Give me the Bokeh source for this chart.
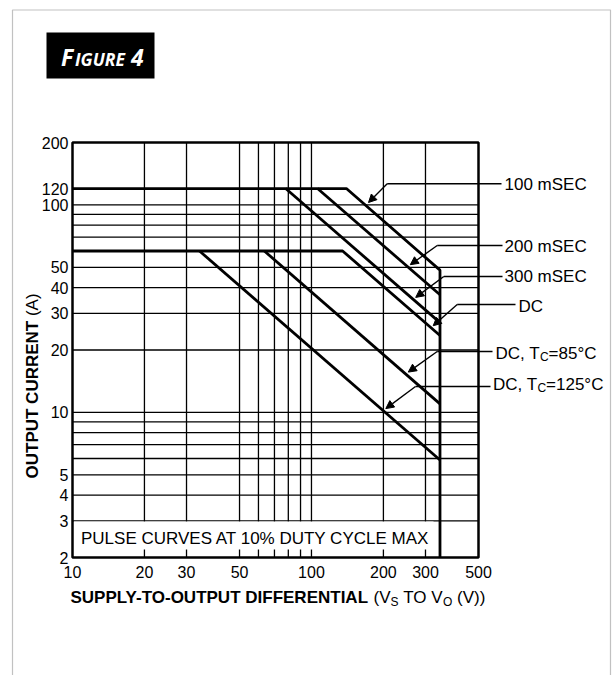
import math
from bokeh.plotting import figure
from bokeh.models import (FixedTicker, NumeralTickFormatter, Label, BoxAnnotation,
                          Arrow, NormalHead)
from bokeh.embed import file_html
from bokeh.resources import INLINE

# ---------------- data ----------------
x_ticks = [10, 20, 30, 50, 100, 200, 300, 500]
y_ticks = [2, 3, 4, 5, 10, 20, 30, 40, 50, 100, 120, 200]
x_grid = [20, 30, 50, 60, 70, 80, 90, 100, 200, 300]
y_grid = [3, 4, 5, 6, 7, 8, 9, 10, 20, 30, 40, 50, 70, 80, 90, 100]
x_lim = [10, 500]
y_lim = [2, 200]

v_100ms = [10, 140, 345, 345]
i_100ms = [120, 120, 48.5, 2]
v_200ms = [106, 345]
i_200ms = [120, 36.9]
v_300ms = [78, 345]
i_300ms = [120, 27.1]
v_dc = [10, 135, 345]
i_dc = [60, 60, 23.5]
v_dc85 = [63.5, 345]
i_dc85 = [60, 11.0]
v_dc125 = [34, 345]
i_dc125 = [60, 5.9]

# ---------------- layout (page pixels) ----------------
W, H = 612, 675
FL, FT, FW, FH = 72, 142, 406, 415   # plot box on the page
FB = FT + FH
XPD = FW / math.log10(x_lim[1] / x_lim[0])   # px per decade
YPD = FH / math.log10(y_lim[1] / y_lim[0])
FONT = "Liberation Sans"

def sx(px):
    return px

def sy(py):
    return H - py

REG = {' ': 278, '(': 333, ')': 333, 'V': 667, 'S': 667, 'T': 611, 'O': 778, 'C': 722,
       'D': 722, ',': 278, '=': 584, '°': 400, 'm': 833, 'E': 667, 'A': 667}
BOLD = {'S': 667, 'U': 722, 'P': 667, 'L': 611, 'Y': 667, '-': 333, 'T': 611, 'O': 778,
        ' ': 278, 'D': 722, 'I': 278, 'F': 611, 'E': 667, 'R': 722, 'N': 722, 'A': 722, 'C': 722}

def tw(s, size, bold=False):
    tab = BOLD if bold else REG
    return sum(tab.get(c, 556) for c in s) * size / 1000.0

x_range = (x_lim[0] * 10 ** (-FL / XPD), x_lim[0] * 10 ** ((W - FL) / XPD))
y_range = (y_lim[0] * 10 ** (-(H - FB) / YPD), y_lim[1] * 10 ** (FT / YPD))

p = figure(x_axis_type="log", y_axis_type="log", x_range=x_range, y_range=y_range,
           width=W, height=H, min_border=0, min_border_left=0, min_border_right=0,
           min_border_top=0, min_border_bottom=0,
           toolbar_location=None, output_backend="svg", title=None)

p.background_fill_color = "white"
p.border_fill_color = "white"
p.outline_line_color = None
p.grid.visible = False

for ax, ticks in ((p.xaxis, x_ticks), (p.yaxis, y_ticks)):
    ax.ticker = FixedTicker(ticks=ticks)
    ax.formatter = NumeralTickFormatter(format="0")
    ax.major_label_text_font = FONT
    ax.major_label_text_font_size = "16px"
    ax.major_label_text_color = "black"
    ax.major_tick_in = 0
    ax.major_tick_out = 0
    ax.minor_tick_in = 0
    ax.minor_tick_out = 0
    ax.axis_line_color = None
p.xaxis.fixed_location = y_lim[0]
p.yaxis.fixed_location = x_lim[0]
p.xaxis.major_label_standoff = 8
p.yaxis.major_label_standoff = 4

# grid lines, spanning the plot box only
p.segment(x0=x_grid, y0=[y_lim[0]] * len(x_grid), x1=x_grid, y1=[y_lim[1]] * len(x_grid),
          line_color="black", line_width=1.3)
p.segment(x0=[x_lim[0]] * len(y_grid), y0=y_grid, x1=[x_lim[1]] * len(y_grid), y1=y_grid,
          line_color="black", line_width=1.3)

# curves
for v, i in ((v_100ms, i_100ms), (v_200ms, i_200ms), (v_300ms, i_300ms),
             (v_dc, i_dc), (v_dc85, i_dc85), (v_dc125, i_dc125)):
    p.line(v, i, line_color="black", line_width=2.8)

# plot box border
p.quad(left=[x_lim[0]], right=[x_lim[1]], bottom=[y_lim[0]], top=[y_lim[1]],
       fill_color=None, line_color="black", line_width=2.5)

def box(l, r, t, b, **kw):
    p.add_layout(BoxAnnotation(left=sx(l), right=sx(r), top=sy(t), bottom=sy(b),
                               left_units="screen", right_units="screen",
                               top_units="screen", bottom_units="screen", **kw))

def lab(text, px, py, size="17px", style="normal", align="left", baseline="middle",
        color="black", font=FONT, angle=0.0):
    p.add_layout(Label(x=sx(px), y=sy(py), x_units="screen", y_units="screen", text=text,
                       text_font=font, text_font_size=size, text_font_style=style,
                       text_align=align, text_baseline=baseline, text_color=color,
                       angle=angle))

# white box behind the note (hides the grid, keeps little ticks at the bottom)
box(FL + 1.5, 433, 521, 549, fill_color="white", fill_alpha=1.0, line_color=None)
lab("PULSE CURVES AT 10% DUTY CYCLE MAX", 80.5, 537.5)

# curve labels
lab("100 mSEC", 504, 183.5)
lab("200 mSEC", 504, 246)
lab("300 mSEC", 504, 275.5)
lab("DC", 518, 306)
for txt, px, py in (("85°C", 495, 352.5), ("125°C", 492.5, 383.5)):
    lab("DC, T", px, py)
    x2 = px + tw("DC, T", 17)
    lab("C", x2, py + 4, size="12px")
    x3 = x2 + tw("C", 12)
    lab("=" + txt, x3, py)

# leader lines with arrows
leaders = [
    ((501, 183.3), (386.7, 183.3), (368.0, 202.0)),
    ((502, 245.0), (436.7, 245.0), (409.8, 264.2)),
    ((502, 276.0), (443.3, 276.0), (415.2, 296.9)),
    ((515, 304.0), (456.7, 304.0), (432.7, 325.2)),
    ((492, 351.0), (436.7, 351.0), (407.8, 371.6)),
    ((490, 386.0), (415.0, 386.0), (385.3, 408.1)),
]
for a, b, c in leaders:
    p.add_layout(Arrow(end=None, x_start=sx(a[0]), y_start=sy(a[1]), x_end=sx(b[0]), y_end=sy(b[1]),
                       start_units="screen", end_units="screen", line_width=1.4, line_color="black"))
    p.add_layout(Arrow(end=NormalHead(size=8, fill_color="black", line_color="black", line_width=1),
                       x_start=sx(b[0]), y_start=sy(b[1]), x_end=sx(c[0]), y_end=sy(c[1]),
                       start_units="screen", end_units="screen", line_width=1.4, line_color="black"))

# axis titles
x0 = 70
lab("SUPPLY-TO-OUTPUT DIFFERENTIAL", x0, 597, style="bold")
x1 = x0 + tw("SUPPLY-TO-OUTPUT DIFFERENTIAL ", 17, bold=True) - 2
lab("(V", x1, 597)
x2 = x1 + tw("(V", 17)
lab("S", x2, 601, size="12px")
x3 = x2 + tw("S", 12) + tw(" ", 17)
lab("TO V", x3, 597)
x4 = x3 + tw("TO V", 17)
lab("O", x4, 601, size="12px")
x5 = x4 + tw("O", 12) + tw(" ", 17)
lab("(V))", x5, 597)

y0 = 478
lab("OUTPUT CURRENT", 32, y0, style="bold", angle=math.pi / 2)
lab("(A)", 32, y0 - tw("OUTPUT CURRENT ", 17, bold=True), angle=math.pi / 2)

# "FIGURE 4" badge
box(46, 154, 32, 78, fill_color="black", fill_alpha=1.0, line_color=None)
lab("F", 60.5, 56.5, size="23px", style="bold italic", color="white", font="Open Sans")
lab("IGURE", 74.5, 58.0, size="17.5px", style="bold italic", color="white", font="Open Sans")
lab("4", 130.5, 56.5, size="23px", style="bold italic", color="white", font="Open Sans")

# page frame
box(12, 610, 9.5, 720, fill_alpha=0.0, line_color="#333333", line_width=1.2)

open("out.html", "w").write(file_html(p, INLINE))
